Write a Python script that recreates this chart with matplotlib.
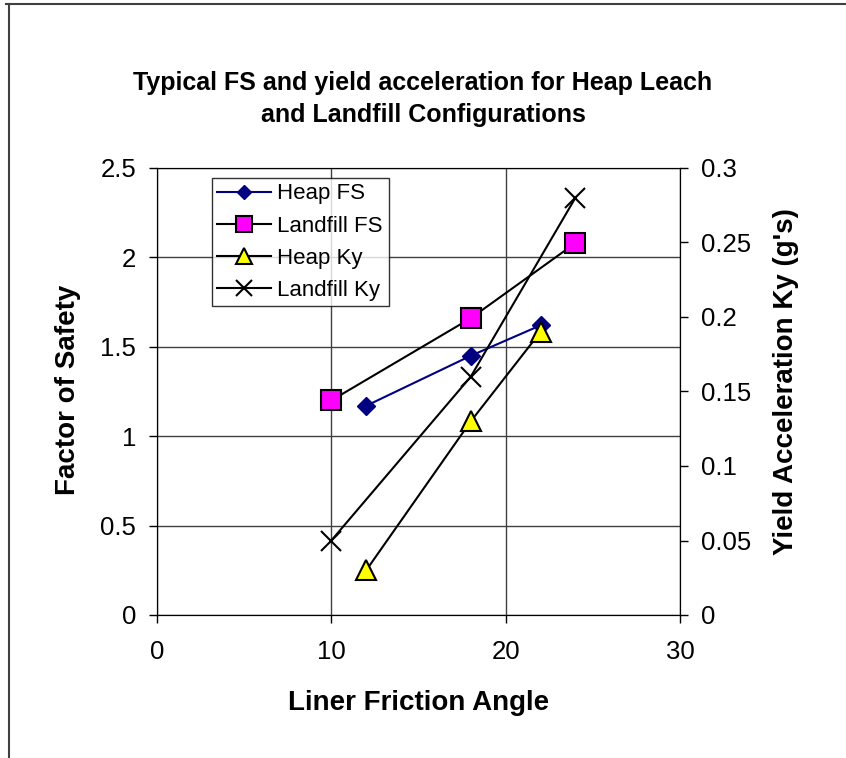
import matplotlib.pyplot as plt
from matplotlib.lines import Line2D

plt.rcParams['font.family'] = ['Liberation Sans', 'DejaVu Sans']

# Data
heap_angle = [12, 18, 22]
heap_fs = [1.17, 1.45, 1.62]
heap_ky = [0.03, 0.13, 0.19]

landfill_angle = [10, 18, 24]
landfill_fs = [1.2, 1.66, 2.08]
landfill_ky = [0.05, 0.16, 0.28]

fig = plt.figure(figsize=(8.46, 7.58), dpi=100)
ax = fig.add_axes([157/846, 1-615/758, 523/846, 447/758])
ax2 = ax.twinx()

# Figure border (top and left visible)
fig.add_artist(Line2D([6/846, 1], [1-4/758, 1-4/758], color='#404040', lw=1.5))
fig.add_artist(Line2D([9/846, 9/846], [0, 1-4/758], color='#404040', lw=1.5))

# Left axis: factor of safety
ax.plot(heap_angle, heap_fs, color='#000080', lw=1.5, marker='D', ms=9,
        mfc='#000080', mec='#000080', label='Heap FS', zorder=3)
ax.plot(landfill_angle, landfill_fs, color='black', lw=1.5, marker='s', ms=14,
        mfc='#FF00FF', mec='black', mew=1.5, label='Landfill FS', zorder=3)

# Right axis: yield acceleration
ax2.plot(heap_angle, heap_ky, color='black', lw=1.5, marker='^', ms=14,
         mfc='#FFFF00', mec='black', mew=1.5, label='Heap Ky', zorder=3)
ax2.plot(landfill_angle, landfill_ky, color='black', lw=1.5, marker='x', ms=15,
         mew=1.5, label='Landfill Ky', zorder=3)

ax.set_xlim(0, 30)
ax.set_ylim(0, 2.5)
ax2.set_ylim(0, 0.3)
ax.set_xticks([0, 10, 20, 30])
ax.set_yticks([0, 0.5, 1, 1.5, 2, 2.5])
ax.set_yticklabels(['0', '0.5', '1', '1.5', '2', '2.5'])
ax2.set_yticks([0, 0.05, 0.1, 0.15, 0.2, 0.25, 0.3])
ax2.set_yticklabels(['0', '0.05', '0.1', '0.15', '0.2', '0.25', '0.3'])

ax.grid(True, color='#404040', lw=1)
ax.set_axisbelow(True)
for a in (ax, ax2):
    a.tick_params(labelsize=18.5, direction='out', length=6, width=1, pad=9)
    for s in a.spines.values():
        s.set_color('black')
ax.tick_params(axis='x', pad=12)
ax.spines['top'].set_color('#404040')

ax.set_xlabel('Liner Friction Angle', fontsize=20, fontweight='bold')
ax.set_ylabel('Factor of Safety', fontsize=20, fontweight='bold')
ax2.set_ylabel("Yield Acceleration Ky (g's)", fontsize=20, fontweight='bold')
ax.xaxis.set_label_coords(0.5, (615-703)/447)
ax.yaxis.set_label_coords((68-157)/523, (615-390)/447)
ax2.yaxis.set_label_coords((786-157)/523, (615-382)/447)
ax.xaxis.label.set_va('center')
ax.yaxis.label.set_va('center')
ax2.yaxis.label.set_va('center')

fig.text(0.5, 1-99/758, 'Typical FS and yield acceleration for Heap Leach\nand Landfill Configurations',
         ha='center', va='center', fontsize=18, fontweight='bold', linespacing=1.4)

h1, l1 = ax.get_legend_handles_labels()
h2, l2 = ax2.get_legend_handles_labels()
leg = ax2.legend(h1 + h2, l1 + l2, loc='upper left', bbox_to_anchor=(0.105, 0.978),
                 fontsize=16, frameon=True, fancybox=False, edgecolor='black',
                 borderpad=0.25, labelspacing=0.5, handlelength=2.4, handletextpad=0.3,
                 borderaxespad=0, markerscale=0.8)
leg.get_frame().set_linewidth(1)

fig.savefig('out.png', dpi=100)
